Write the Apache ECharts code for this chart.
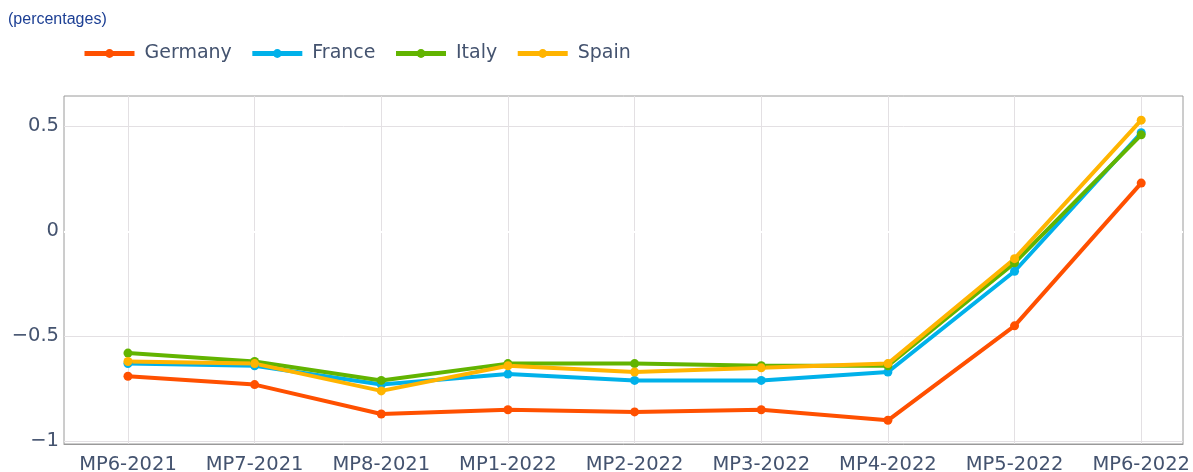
<!DOCTYPE html>
<html>
<head>
<meta charset="utf-8">
<script src="https://cdn.jsdelivr.net/npm/echarts@6/dist/echarts.min.js"></script>
<style>
  html, body { margin: 0; padding: 0; background: #fff; }
  #chart { width: 1193px; height: 472px; }
</style>
</head>
<body>
<div id="chart"></div>
<script>
  // categories (x axis)
  let categories = ['MP6-2021', 'MP7-2021', 'MP8-2021', 'MP1-2022', 'MP2-2022', 'MP3-2022', 'MP4-2022', 'MP5-2022', 'MP6-2022'];
  // values, percentages
  let germany = [-0.69, -0.73, -0.87, -0.85, -0.86, -0.85, -0.90, -0.45, 0.23];
  let france  = [-0.63, -0.64, -0.73, -0.68, -0.71, -0.71, -0.67, -0.19, 0.47];
  let italy   = [-0.58, -0.62, -0.71, -0.63, -0.63, -0.64, -0.64, -0.15, 0.46];
  let spain   = [-0.62, -0.63, -0.76, -0.64, -0.67, -0.65, -0.63, -0.13, 0.53];
  let yTicks = [-1, -0.5, 0, 0.5];

  let names = ['Germany', 'France', 'Italy', 'Spain'];
  let colors = ['#ff5000', '#00b1ea', '#62b400', '#ffb400'];
  let values = [germany, france, italy, spain];

  let myChart = echarts.init(document.getElementById('chart'));
  let font = 'DejaVu Sans';
  let txtColor = '#44536f';

  let series = [];
  // white zero line under the traces
  series.push({
    type: 'line',
    data: [],
    silent: true,
    z: 1,
    markLine: {
      silent: true,
      z: 1,
      symbol: 'none',
      label: { show: false },
      lineStyle: { color: '#ffffff', width: 2, type: 'solid' },
      data: [{ yAxis: 0 }]
    }
  });
  for (let i = 0; i < names.length; i++) {
    series.push({
      name: names[i],
      type: 'line',
      z: 3,
      data: values[i].map(function (v, k) { return [k, v]; }),
      symbol: 'circle',
      symbolSize: 9,
      showSymbol: true,
      lineStyle: { color: colors[i], width: 4 },
      itemStyle: { color: colors[i] }
    });
  }

  let option = {
    animation: false,
    title: {
      text: '(percentages)',
      left: 3,
      top: 7,
      textStyle: { fontFamily: 'Liberation Sans', fontSize: 16, fontWeight: 'normal', color: '#1c3f94' }
    },
    legend: {
      data: names,
      left: 77,
      top: 39,
      itemWidth: 50,
      itemHeight: 11,
      itemGap: 18,
      lineStyle: { width: 5 },
      textStyle: { fontFamily: font, fontSize: 19, color: txtColor, padding: [0, 0, 0, 5] }
    },
    grid: {
      left: 64,
      right: 10,
      top: 96,
      bottom: 28,
      show: true,
      borderColor: '#9a9a9a',
      borderWidth: 1,
      containLabel: false,
      outerBoundsMode: 'none'
    },
    xAxis: {
      type: 'value',
      min: -0.505,
      max: 8.33,
      axisLine: { show: true, onZero: false, lineStyle: { color: '#9a9a9a', width: 1 } },
      axisTick: { show: false, customValues: categories.map(function (c, k) { return k; }) },
      axisLabel: {
        customValues: categories.map(function (c, k) { return k; }),
        formatter: function (v) { return categories[Math.round(v)]; },
        fontFamily: font,
        fontSize: 19.5,
        color: txtColor,
        margin: 11
      },
      splitLine: { show: true, lineStyle: { color: '#e3e0e3', width: 1 } }
    },
    yAxis: {
      type: 'value',
      min: -1.013,
      max: 0.645,
      axisLine: { show: false },
      axisTick: { show: false, customValues: yTicks },
      axisLabel: {
        customValues: yTicks,
        formatter: function (v) { return String(v).replace('-', '\u2212'); },
        fontFamily: font,
        fontSize: 19.5,
        color: txtColor,
        margin: 5
      },
      splitLine: { show: true, lineStyle: { color: '#e3e0e3', width: 1 } }
    },
    series: series
  };
  myChart.setOption(option);
</script>
</body>
</html>
